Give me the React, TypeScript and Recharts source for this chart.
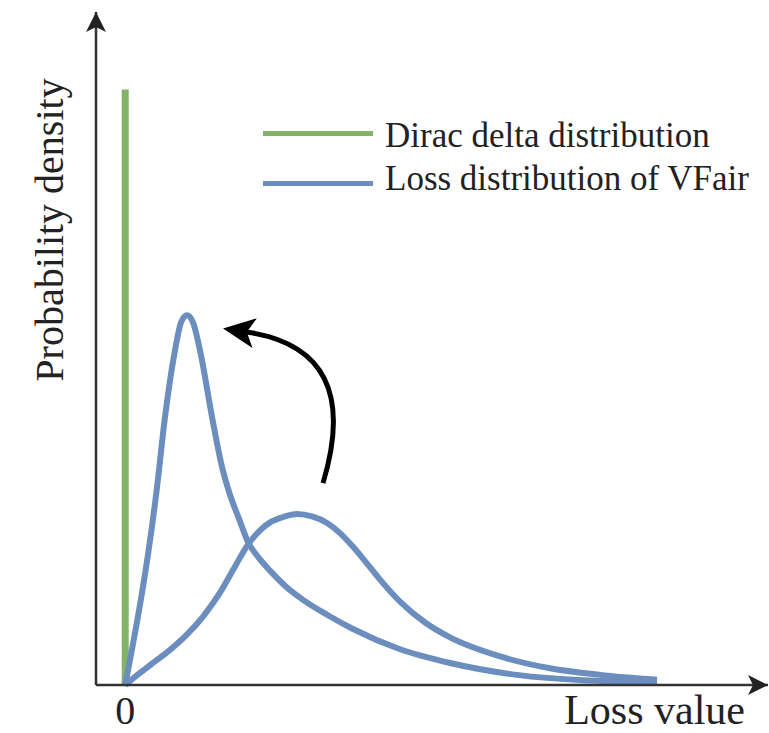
import { LineChart, Line, XAxis, YAxis, ReferenceLine, Legend } from 'recharts';

const GREEN = '#82b366';
const BLUE = '#6c8ebf';
const INK = '#222222';
const SERIF = '"Liberation Serif", "Times New Roman", serif';

// Dirac delta at loss = 0
const diracLoss = [0, 0];
const diracDensity = [0, 1.0];

// VFair loss distribution (narrow, shifted towards 0)
const peakedLoss = [0, 0.544, 0.681, 0.852, 0.955, 1.058, 1.16, 1.28, 1.486, 1.657, 1.794, 1.948, 2.102, 2.29, 2.478, 2.752, 3.043, 3.454, 3.899, 4.703, 5.559, 6.705, 7.835, 9.101];
const peakedDensity = [0, 0.332, 0.45, 0.562, 0.609, 0.621, 0.609, 0.562, 0.45, 0.366, 0.319, 0.279, 0.240, 0.213, 0.192, 0.165, 0.143, 0.118, 0.094, 0.060, 0.037, 0.017, 0.008, 0.005];

// VFair loss distribution (wide, before the shift)
const spreadLoss = [0, 0.236, 0.476, 0.767, 1.058, 1.332, 1.622, 1.862, 2.102, 2.29, 2.478, 2.701, 2.94, 3.197, 3.454, 3.676, 3.899, 4.121, 4.361, 4.703, 5.131, 5.559, 6.415, 7.27, 8.126, 9.101];
const spreadDensity = [0, 0.019, 0.037, 0.059, 0.085, 0.115, 0.155, 0.196, 0.236, 0.258, 0.273, 0.282, 0.287, 0.283, 0.272, 0.255, 0.232, 0.206, 0.177, 0.140, 0.105, 0.080, 0.048, 0.028, 0.017, 0.009];

const xTicks = [0];
const xDomain = [-0.5, 11];
const yDomain = [0, 1.13];

// curved arrow: from the wide peak towards the narrow peak
const shiftFrom = { x: 3.385, y: 0.339 };
const shiftTo = { x: 1.708, y: 0.598 };

const legendItems = [
    { label: 'Dirac delta distribution', color: GREEN },
    { label: 'Loss distribution of VFair', color: BLUE },
];

const toRows = (xs: number[], ys: number[]) => xs.map((x, i) => ({ x, y: ys[i] }));

const diracData = toRows(diracLoss, diracDensity);
const peakedData = toRows(peakedLoss, peakedDensity);
const spreadData = toRows(spreadLoss, spreadDensity);

const BEND = 0.58;
const HEAD = 22;

function CurvedArrow(props: any) {
    const { x1, y1, x2, y2 } = props;
    const dx = x2 - x1;
    const dy = y2 - y1;
    const cx = (x1 + x2) / 2 - dy * BEND;
    const cy = (y1 + y2) / 2 + dx * BEND;
    // stop the stroke where the arrow head begins
    const tx = x2 - cx;
    const ty = y2 - cy;
    const len = Math.hypot(tx, ty) || 1;
    const ex = x2 - (tx / len) * HEAD;
    const ey = y2 - (ty / len) * HEAD;
    return (
        <path
            d={`M${x1},${y1} Q${cx},${cy} ${ex},${ey}`}
            fill="none"
            stroke="#000"
            strokeWidth={5}
            markerEnd="url(#shiftHead)"
        />
    );
}

function LegendBox() {
    return (
        <div style={{ position: 'relative', width: 0, height: 0 }}>
            {legendItems.map((item, i) => (
                <div key={item.label}>
                    <div style={{ position: 'absolute', left: 263, top: 130.5 + i * 50, width: 110, height: 5, background: item.color }} />
                    <div style={{ position: 'absolute', left: 385, top: 118 + i * 43, fontFamily: SERIF, fontSize: 35, lineHeight: '35px', color: INK, whiteSpace: 'nowrap' }}>
                        {item.label}
                    </div>
                </div>
            ))}
        </div>
    );
}

export default function App() {
    return (
        <div style={{ position: 'absolute', left: 0, top: 0, background: '#fff' }}>
            <LineChart width={769} height={733} margin={{ top: 12, right: 1, left: 0, bottom: 0 }}>
                <defs>
                    <marker id="axisHead" markerUnits="userSpaceOnUse" markerWidth={20} markerHeight={20} refX={20} refY={10} orient="auto-start-reverse">
                        <path d="M0,0 L20,10 L0,20 L5,10 Z" fill={INK} />
                    </marker>
                    <marker id="shiftHead" markerUnits="userSpaceOnUse" markerWidth={32} markerHeight={30} refX={8} refY={15} orient="auto">
                        <path d="M0,0 L32,15 L0,30 L8,15 Z" fill="#000" />
                    </marker>
                </defs>
                <XAxis
                    type="number"
                    dataKey="x"
                    domain={xDomain}
                    ticks={xTicks}
                    height={48}
                    tickLine={false}
                    tickMargin={5}
                    tick={{ fontSize: 40, fill: INK, fontFamily: SERIF }}
                    axisLine={{ stroke: '#333', strokeWidth: 2.5, markerEnd: 'url(#axisHead)' }}
                    label={{
                        content: (p: any) => (
                            <text x={p.viewBox.x + p.viewBox.width - 23} y={p.viewBox.y + 39} textAnchor="end" fontSize={42} fill={INK} fontFamily={SERIF}>
                                Loss value
                            </text>
                        ),
                    }}
                />
                <YAxis
                    type="number"
                    dataKey="y"
                    domain={yDomain}
                    width={96}
                    tick={false}
                    tickLine={false}
                    axisLine={{ stroke: '#333', strokeWidth: 2.5, markerStart: 'url(#axisHead)' }}
                    label={{
                        content: (p: any) => {
                            const lx = p.viewBox.x + p.viewBox.width - 33;
                            const ly = p.viewBox.y + 218;
                            return (
                                <text x={lx} y={ly} transform={`rotate(-90, ${lx}, ${ly})`} textAnchor="middle" fontSize={40} fill={INK} fontFamily={SERIF}>
                                    Probability density
                                </text>
                            );
                        },
                    }}
                />
                <Legend content={() => <LegendBox />} wrapperStyle={{ position: 'absolute', left: 0, top: 0, width: 0, height: 0 }} />
                <Line data={diracData} dataKey="y" type="linear" stroke={GREEN} strokeWidth={7} dot={false} activeDot={false} isAnimationActive={false} />
                <Line data={spreadData} dataKey="y" type="monotone" stroke={BLUE} strokeWidth={6} dot={false} activeDot={false} isAnimationActive={false} />
                <Line data={peakedData} dataKey="y" type="monotone" stroke={BLUE} strokeWidth={6} dot={false} activeDot={false} isAnimationActive={false} />
                <ReferenceLine segment={[shiftFrom, shiftTo]} shape={CurvedArrow} ifOverflow="visible" />
            </LineChart>
        </div>
    );
}
